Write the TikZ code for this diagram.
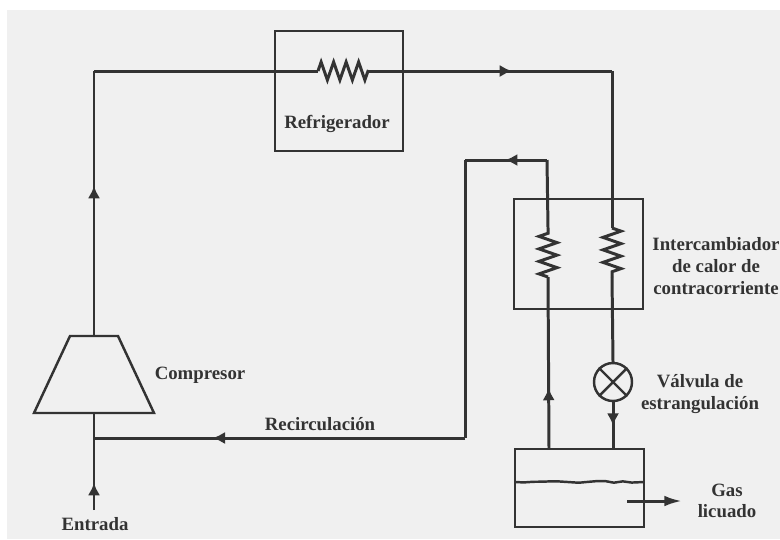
\documentclass[tikz,border=0pt]{standalone}
\usepackage{fontspec}
\setmainfont{Liberation Serif}
\usetikzlibrary{arrows.meta,decorations.markings,decorations.pathmorphing}
\definecolor{paper}{HTML}{F0F0F0}
\definecolor{ink}{HTML}{333333}
\tikzset{
  pipe/.style={draw=ink,line width=1.7pt},
  wall/.style={draw=ink,line width=1.4pt},
  coil/.style={pipe,decorate,decoration={zigzag,segment length=12.5*0.02cm,amplitude=9*0.02cm}},
  flow/.style={postaction={decorate,decoration={markings,mark=at position #1 with {\arrow[ink]{Latex[length=7pt,width=7pt]}}}}},
  label/.style={text=ink,font=\fontsize{10.7}{13}\selectfont\bfseries,align=center,inner sep=0pt}
}
\begin{document}
\begin{tikzpicture}[x=0.02cm,y=-0.02cm]

  \useasboundingbox (0,0) rectangle (780,539);
  \fill[white] (0,0) rectangle (780,539);
  \fill[paper] (7,10) rectangle (780,539);

  % boxes first
  \draw[wall] (275,31) rectangle (403,151);
  \draw[wall] (514,199) rectangle (643,309);
  \draw[wall] (515,449) rectangle (644,527);
  \draw[wall] (70,336) -- (118,336) -- (154,413) -- (34,413) -- cycle;
  \path (94,336) coordinate (compTop) (94,413) coordinate (compBot);
  \path (613,382) node[draw=ink,line width=1.4pt,circle,minimum size=38*0.02cm,inner sep=0pt] (valve) {};
  \draw[wall] (valve.north west) -- (valve.south east);
  \draw[wall] (valve.north east) -- (valve.south west);

  \path (94,71) coordinate (cornerA) (612,71) coordinate (cornerB);
  \path (318,71) coordinate (refA) (368,71) coordinate (refB);
  \path (612,228) coordinate (hotA) (612,277) coordinate (hotB);
  \path (548,228) coordinate (coldA) (548,277) coordinate (coldB);
  \path (547,160) coordinate (cornerC) (465,160) coordinate (cornerD);
  \path (465,438) coordinate (cornerE) (94,438) coordinate (mixP);
  \path (94,510) coordinate (inlet);
  \path (549,449) coordinate (tankL) (613,449) coordinate (tankR);

  % hot side
  \draw[pipe,flow=0.566] (compTop) -- (cornerA);
  \draw[pipe] (cornerA) -- (refA);
  \draw[coil] (refA) -- (refB);
  \draw[pipe,flow=0.59] (refB) -- (cornerB);
  \draw[pipe] (cornerB) -- (hotA);
  \draw[coil] (hotA) -- (hotB);
  \draw[pipe] (hotB) -- (valve.north);
  \draw[pipe,flow=0.5] (valve.south) -- (tankR);

  % cold side
  \draw[pipe,flow=0.355] (tankL) -- (coldB);
  \draw[coil] (coldB) -- (coldA);
  \draw[pipe] (coldA) -- (cornerC);
  \draw[pipe,flow=0.51] (cornerC) -- (cornerD);
  \draw[pipe] (cornerD) -- (cornerE);
  \draw[pipe,flow=0.68] (cornerE) -- (mixP);
  \draw[pipe] (compBot) -- (mixP);
  \draw[pipe,flow=0.375] (inlet) -- (mixP);

  % liquid level and outlet
  \draw[wall,decorate,decoration={random steps,segment length=9*0.02cm,amplitude=0.02cm}] (515,482) -- (644,482);
  \draw[pipe,-{Latex[length=10pt,width=6pt]}] (627,501) coordinate (outA) -- (682,501) coordinate (outB);

  \node[label] (refLabel) at (337,124) {Refrigerador};
  \node[label] (hxLabel) at (716,266) {Intercambiador\\[-0.3pt]de calor de\\[-0.3pt]contracorriente};
  \node[label] (valveLabel) at (700,394) {Válvula de\\[-1pt]estrangulación};
  \node[label] (gasLabel) at (727,501) {Gas\\[-1pt]licuado};
  \node[label] (compLabel) at (200,375) {Compresor};
  \node[label] (recLabel) at (320,424) {Recirculación};
  \node[label] (inLabel) at (95,524) {Entrada};

\end{tikzpicture}
\end{document}
